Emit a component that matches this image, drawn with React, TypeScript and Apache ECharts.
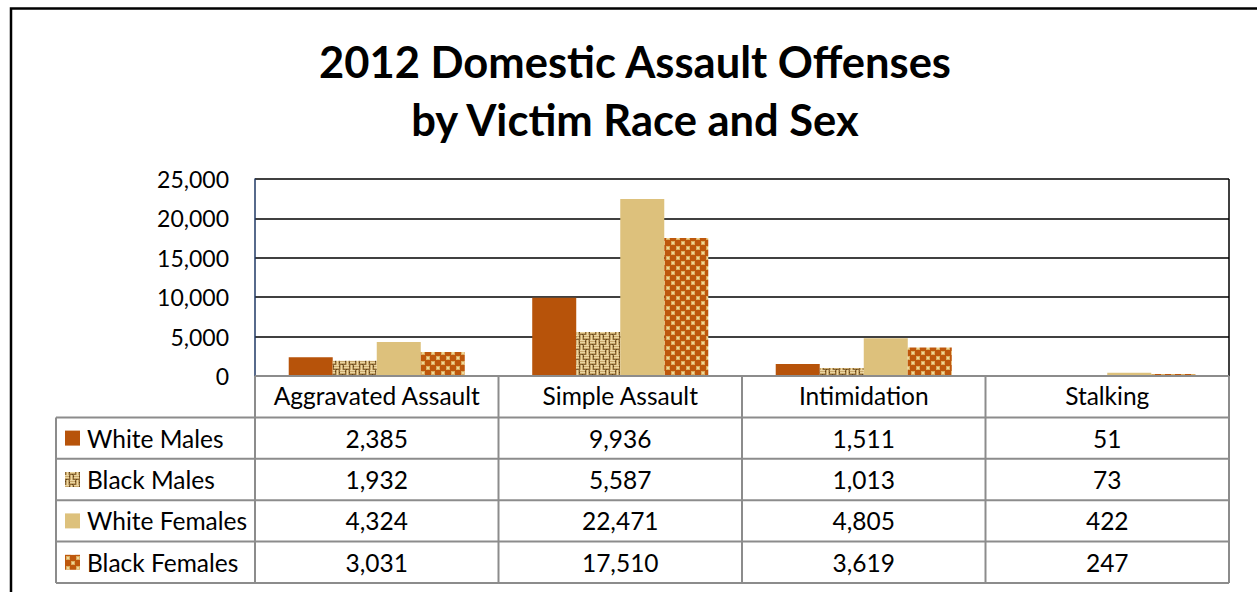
import React, { useEffect, useRef } from "react";
import * as echarts from "echarts";

const titleLines = ["2012 Domestic Assault Offenses", "by Victim Race and Sex"];
const categories = ["Aggravated Assault", "Simple Assault", "Intimidation", "Stalking"];
const seriesNames = ["White Males", "Black Males", "White Females", "Black Females"];
const whiteMales = [2385, 9936, 1511, 51];
const blackMales = [1932, 5587, 1013, 73];
const whiteFemales = [4324, 22471, 4805, 422];
const blackFemales = [3031, 17510, 3619, 247];
const yMin = 0;
const yMax = 25000;
const yStep = 5000;

const FONT = "Lato, 'Open Sans', sans-serif";

function makeDots(): HTMLCanvasElement {
  const c = document.createElement("canvas");
  c.width = 10;
  c.height = 10;
  const g = c.getContext("2d")!;
  g.fillStyle = "#BE570C";
  g.fillRect(0, 0, 10, 10);
  const sq = (x: number, y: number) => {
    g.fillStyle = "#DDAE62";
    g.fillRect(x, y, 4, 4);
    g.fillStyle = "#EFD598";
    g.fillRect(x + 1, y + 1, 2, 2);
  };
  sq(1, 1);
  sq(6, 6);
  return c;
}

function makeWeave(): HTMLCanvasElement {
  const c = document.createElement("canvas");
  c.width = 10;
  c.height = 10;
  const g = c.getContext("2d")!;
  const col: Record<string, string> = {
    L: "#EBD6A2",
    M: "#C9A86C",
    D: "#8A6836",
    K: "#5A4019",
  };
  const map = [
    "LLLLLDMLMD",
    "MMMMMKMLMD",
    "LLLLLDMLMK",
    "MMMMMDMLMD",
    "DDKDDDMLMD",
    "MLMDLLLLLD",
    "MLMKMMMMMK",
    "MLMDLLLLLD",
    "MLMDMMMMMD",
    "MLMDDDKDDD",
  ];
  for (let y = 0; y < 10; y++)
    for (let x = 0; x < 10; x++) {
      g.fillStyle = col[map[y][x]];
      g.fillRect(x, y, 1, 1);
    }
  return c;
}

export default function App() {
  const ref = useRef<HTMLDivElement>(null);
  useEffect(() => {
    if (!ref.current) return;
    const chart = echarts.init(ref.current, null, { renderer: "svg" });

    const dots = makeDots();
    const weave = makeWeave();
    const pat = (c: HTMLCanvasElement) => ({
      image: c,
      repeat: "repeat",
      imageWidth: c.width,
      imageHeight: c.height,
    });
    const fills: any[] = ["#B7530A", pat(weave), "#DDC17C", pat(dots)];
    const data = [whiteMales, blackMales, whiteFemales, blackFemales];

    const gridLeft = 255;
    const gridTop = 179;
    const gridW = 974;
    const gridH = 197;
    const gridBottom = gridTop + gridH;
    const colW = gridW / categories.length;
    const tableLeft = 56;
    const rowH = 41.4;
    const tableBottom = gridBottom + rowH * (seriesNames.length + 1);
    const lineColor = "#8C8C8C";
    const fmt = (v: number) => v.toLocaleString("en-US");
    const tableSize = 24.5;
    const tableFont = `${tableSize}px ${FONT}`;

    const graphics: any[] = [];
    graphics.push({
      type: "rect",
      shape: { x: 11, y: 8.5, width: 1400, height: 800 },
      style: { fill: "none", stroke: "#000", lineWidth: 2.5 },
      z: 1,
    });
    titleLines.forEach((t, i) => {
      graphics.push({
        type: "text",
        x: 635,
        y: 61 + i * 58,
        style: {
          text: t,
          font: `bold 43.5px ${FONT}`,
          fill: "#000",
          textAlign: "center",
          textVerticalAlign: "middle",
        },
        z: 10,
      });
    });
    graphics.push({
      type: "line",
      shape: { x1: gridLeft + gridW, y1: gridTop, x2: gridLeft + gridW, y2: gridBottom },
      style: { stroke: "#000", lineWidth: 1.5 },
      z: 50,
    });
    graphics.push({
      type: "line",
      shape: { x1: gridLeft, y1: gridBottom, x2: gridLeft + gridW, y2: gridBottom },
      style: { stroke: lineColor, lineWidth: 2 },
      z: 60,
    });
    for (let k = 1; k <= seriesNames.length + 1; k++) {
      const y = gridBottom + rowH * k;
      graphics.push({
        type: "line",
        shape: { x1: tableLeft, y1: y, x2: gridLeft + gridW, y2: y },
        style: { stroke: lineColor, lineWidth: 2 },
        z: 60,
      });
    }
    graphics.push({
      type: "line",
      shape: { x1: tableLeft, y1: gridBottom + rowH, x2: tableLeft, y2: tableBottom },
      style: { stroke: lineColor, lineWidth: 2 },
      z: 60,
    });
    for (let j = 0; j <= categories.length; j++) {
      const x = gridLeft + colW * j;
      graphics.push({
        type: "line",
        shape: { x1: x, y1: gridBottom, x2: x, y2: tableBottom },
        style: { stroke: lineColor, lineWidth: 2 },
        z: 60,
      });
    }
    seriesNames.forEach((name, i) => {
      const cy = gridBottom + rowH * (i + 1) + rowH / 2;
      graphics.push({
        type: "rect",
        shape: { x: 65, y: cy - 7.5, width: 15, height: 15 },
        style: { fill: fills[i] },
        z: 60,
      });
      graphics.push({
        type: "text",
        x: 87,
        y: cy,
        style: {
          text: name,
          font: tableFont,
          fill: "#000",
          textAlign: "left",
          textVerticalAlign: "middle",
        },
        z: 60,
      });
      data[i].forEach((v, j) => {
        graphics.push({
          type: "text",
          x: gridLeft + colW * (j + 0.5),
          y: cy,
          style: {
            text: fmt(v),
            font: tableFont,
            fill: "#000",
            textAlign: "center",
            textVerticalAlign: "middle",
          },
          z: 60,
        });
      });
    });

    chart.setOption({
      animation: false,
      backgroundColor: "#fff",
      grid: { left: gridLeft, top: gridTop, width: gridW, height: gridH, containLabel: false },
      xAxis: {
        type: "category",
        data: categories,
        axisLine: { show: false },
        axisTick: { show: false },
        splitLine: { show: false },
        axisLabel: { color: "#000", fontSize: tableSize, fontFamily: FONT, margin: 7, interval: 0 },
      },
      yAxis: {
        type: "value",
        min: yMin,
        max: yMax,
        interval: yStep,
        axisLine: { show: true, lineStyle: { color: "#1F3864", width: 1.5 } },
        axisTick: { show: false },
        axisLabel: {
          color: "#000",
          fontSize: 23,
          fontFamily: FONT,
          margin: 26,
          formatter: (v: number) => fmt(v),
        },
        splitLine: { show: true, lineStyle: { color: "#000", width: 1.5 } },
      },
      series: seriesNames.map((name, i) => ({
        name,
        type: "bar",
        data: data[i],
        barGap: "0%",
        barCategoryGap: "27.7%",
        itemStyle: { color: fills[i] },
      })),
      graphic: graphics,
    });
    return () => chart.dispose();
  }, []);
  return (
    <div
      ref={ref}
      style={{ position: "fixed", left: 0, top: 0, width: 1257, height: 592 }}
    />
  );
}
